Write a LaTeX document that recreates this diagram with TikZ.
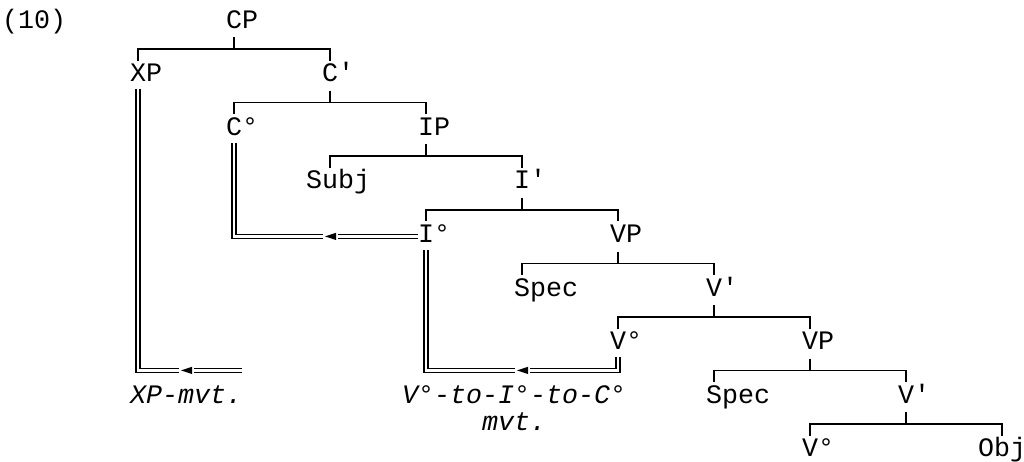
\documentclass[tikz,border=0pt]{standalone}
\usepackage{fontspec}
\setmonofont{Liberation Mono}
\newcommand\tbranch[4]{\draw[br] ([xshift=#3]#1.south west) -- ++(0,0.5) -| ([xshift=#4]#2.north west);}
\newcommand\tarrow[1]{\fill ([xshift=-5pt]#1) -- ([xshift=6pt,yshift=3.6pt]#1) -- ([xshift=6pt,yshift=-3.6pt]#1) -- cycle;}
\begin{document}
\begin{tikzpicture}[x=16pt,y=-26.8pt,
  lab/.style={anchor=base west, inner sep=0pt, text height=19.4pt, text depth=7.4pt, yshift=-6pt,
    font=\fontsize{26.66pt}{27pt}\selectfont\ttfamily},
  mv/.style={lab, font=\fontsize{26.66pt}{27pt}\selectfont\ttfamily\itshape},
  br/.style={line width=1.7pt, shorten <=1.5pt, shorten >=1.5pt},
  dbl/.style={double, double distance=2.6pt, line width=1.3pt}]
\useasboundingbox (-10pt,22pt) rectangle (1014pt,-439pt);
\clip (-10pt,22pt) rectangle (1014pt,-439pt);
% labels
\node[lab] (num) at (-0.5,0) {(10)};
\node[lab] (CP) at (13.5,0) {CP};
\node[lab] (XP) at (7.5,2) {XP};
\node[lab] (Cb) at (19.5,2) {C'};
\node[lab] (Co) at (13.5,4) {C°};
\node[lab] (IP) at (25.5,4) {IP};
\node[lab] (Subj) at (18.5,6) {Subj};
\node[lab] (Ib) at (31.5,6) {I'};
\node[lab] (Io) at (25.5,8) {I°};
\node[lab] (VPa) at (37.5,8) {VP};
\node[lab] (Speca) at (31.5,10) {Spec};
\node[lab] (Vba) at (43.5,10) {V'};
\node[lab] (Voa) at (37.5,12) {V°};
\node[lab] (VPb) at (49.5,12) {VP};
\node[lab] (Specb) at (43.5,14) {Spec};
\node[lab] (Vbb) at (55.5,14) {V'};
\node[lab] (Vob) at (49.5,16) {V°};
\node[lab] (Obj) at (60.5,16) {Obj};
\node[mv] (m1) at (7.5,14) {XP-mvt.};
\node[mv] (m2) at (24.5,14) {V°-to-I°-to-C°};
\node[mv] (m3) at (29.5,15) {mvt.};
% tree branches
\tbranch{CP}{XP}{8pt}{8pt}
\tbranch{CP}{Cb}{8pt}{8pt}
\tbranch{Cb}{Co}{8pt}{8pt}
\tbranch{Cb}{IP}{8pt}{8pt}
\tbranch{IP}{Subj}{8pt}{24pt}
\tbranch{IP}{Ib}{8pt}{8pt}
\tbranch{Ib}{Io}{8pt}{8pt}
\tbranch{Ib}{VPa}{8pt}{8pt}
\tbranch{VPa}{Speca}{8pt}{8pt}
\tbranch{VPa}{Vba}{8pt}{8pt}
\tbranch{Vba}{Voa}{8pt}{8pt}
\tbranch{Vba}{VPb}{8pt}{8pt}
\tbranch{VPb}{Specb}{8pt}{8pt}
\tbranch{VPb}{Vbb}{8pt}{8pt}
\tbranch{Vbb}{Vob}{8pt}{8pt}
\tbranch{Vbb}{Obj}{8pt}{24pt}
% movement arrows
\coordinate (g1) at (11,13);
\coordinate (e1) at (14.5,13);
\draw[dbl] (e1) -- ([xshift=8pt]g1);
\draw[dbl] ([xshift=-7pt]g1) -| ([xshift=8pt]XP.south west);
\tarrow{g1}
\coordinate (g2) at (20,8);
\draw[dbl] (Io.west) -- ([xshift=8pt]g2);
\draw[dbl] ([xshift=-7pt]g2) -| ([xshift=8pt]Co.south west);
\tarrow{g2}
\coordinate (g3) at (32,13);
\draw[dbl] ([xshift=8pt]Voa.south west) |- ([xshift=8pt]g3);
\draw[dbl] ([xshift=-7pt]g3) -| ([xshift=8pt]Io.south west);
\tarrow{g3}
\end{tikzpicture}
\end{document}
